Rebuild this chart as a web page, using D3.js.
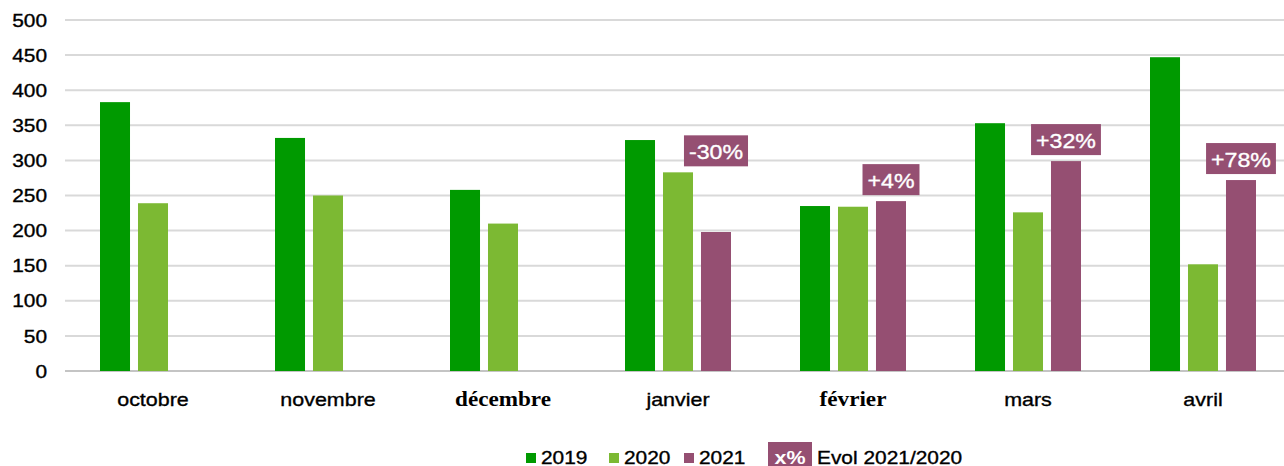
<!DOCTYPE html>
<html>
<head>
<meta charset="utf-8">
<script src="https://cdn.jsdelivr.net/npm/d3@7"></script>
<style>
  body { margin: 0; background: #fff; }
  svg { display: block; }
  text { font-family: "Liberation Sans", Arial, sans-serif; fill: #000; stroke: #000; stroke-width: 0.35px; }
  text.white { fill: #fff; stroke: #fff; }
</style>
</head>
<body>
<svg width="1284" height="466"></svg>
<script>
// data
const months = ["octobre", "novembre", "décembre", "janvier", "février", "mars", "avril"];
const years = ["2019", "2020", "2021"];
const v2019 = [383, 332, 258, 329, 235, 353, 447];
const v2020 = [239, 250, 210, 283, 234, 226, 152];
const v2021 = [null, null, null, 198, 242, 299, 272];
const evol = ["", "", "", "-30%", "+4%", "+32%", "+78%"];
const yTicks = [0, 50, 100, 150, 200, 250, 300, 350, 400, 450, 500];
const serifMonths = ["décembre", "février"]; // these two render in a serif face in the source

const colors = {"2019": "#009a00", "2020": "#7cb933", "2021": "#954f72"};
const sx = 1.13; // the source image is a bit stretched horizontally

var svg = d3.select("svg");

var x = d3.scaleBand().domain(months).range([65.5, 1290.5]);
var xi = d3.scaleBand().domain(years).range([-53, 53]).paddingInner(0.21);
var y = d3.scaleLinear().domain([0, 500]).range([371, 20]);

var rows = months.map(function(m, i) {
  return {month: m, vals: [v2019[i], v2020[i], v2021[i]], evol: evol[i]};
});

function stretched(sel, px, py) {
  return sel.attr("transform", function(d, i) {
    return "translate(" + px(d, i) + "," + py(d, i) + ") scale(" + sx + ",1)";
  });
}

// gridlines
svg.append("g").selectAll("line")
  .data(yTicks)
  .enter().append("line")
    .attr("x1", 65).attr("x2", 1284)
    .attr("y1", function(d) { return y(d); })
    .attr("y2", function(d) { return y(d); })
    .attr("stroke", function(d) { return d === 0 ? "#c4c4c4" : "#d9d9d9"; })
    .attr("stroke-width", 2);

// y labels
stretched(svg.append("g").selectAll("text")
  .data(yTicks)
  .enter().append("text")
    .attr("text-anchor", "end")
    .attr("dy", "0.36em")
    .style("font-size", "18.5px")
    .text(function(d) { return d; }),
  function() { return 47; }, function(d) { return y(d); });

// bars
var groups = svg.append("g").selectAll("g")
  .data(rows)
  .enter().append("g")
    .attr("transform", function(d) { return "translate(" + (x(d.month) + x.bandwidth() / 2) + ",0)"; });

groups.selectAll("rect")
  .data(function(d) {
    return years.map(function(yr, k) { return {year: yr, value: d.vals[k]}; })
      .filter(function(e) { return e.value != null; });
  })
  .enter().append("rect")
    .attr("x", function(d) { return xi(d.year); })
    .attr("width", xi.bandwidth())
    .attr("y", function(d) { return y(d.value); })
    .attr("height", function(d) { return y(0) - y(d.value); })
    .attr("fill", function(d) { return colors[d.year]; });

// month labels
stretched(svg.append("g").selectAll("text")
  .data(months)
  .enter().append("text")
    .attr("text-anchor", "middle")
    .style("font-size", function(d) { return serifMonths.includes(d) ? "20.5px" : "19px"; })
    .style("font-family", function(d) { return serifMonths.includes(d) ? "'Liberation Serif', 'Times New Roman', serif" : null; })
    .style("font-weight", function(d) { return serifMonths.includes(d) ? "bold" : null; })
    .style("stroke-width", function(d) { return serifMonths.includes(d) ? "0" : null; })
    .text(function(d) { return d; }),
  function(d) { return x(d) + x.bandwidth() / 2; }, function() { return 406; });

// evolution boxes above the 2021 bar
function evolBox(g, label, cx, top) {
  var t = g.append("text")
    .attr("class", "white")
    .attr("text-anchor", "middle")
    .style("font-size", "20.5px")
    .attr("transform", "translate(" + cx + "," + (top + 24) + ") scale(" + sx + ",1)")
    .text(label);
  var w = t.node().getComputedTextLength() * sx + 10;
  g.insert("rect", "text")
    .attr("x", cx - w / 2).attr("y", top)
    .attr("width", w).attr("height", 31)
    .attr("fill", colors["2021"]);
}

rows.forEach(function(d) {
  if (!d.evol) return;
  var cx = x(d.month) + x.bandwidth() / 2 + xi("2021") + xi.bandwidth() / 2;
  var top = y(Math.max(d.vals[1], d.vals[2])) - 6 - 31;
  evolBox(svg.append("g"), d.evol, cx, top);
});

// legend
var legend = svg.append("g");
var legItems = [{year: "2019", x: 526}, {year: "2020", x: 609}, {year: "2021", x: 684}];
legItems.forEach(function(it) {
  legend.append("rect")
    .attr("x", it.x).attr("y", 453)
    .attr("width", 10).attr("height", 10)
    .attr("fill", colors[it.year]);
  legend.append("text")
    .style("font-size", "18.5px")
    .attr("transform", "translate(" + (it.x + 15) + ",464) scale(" + sx + ",1)")
    .text(it.year);
});
legend.append("rect")
  .attr("x", 768).attr("y", 442)
  .attr("width", 44).attr("height", 31)
  .attr("fill", colors["2021"]);
legend.append("text")
  .attr("class", "white")
  .attr("text-anchor", "middle")
  .style("font-size", "19px")
  .style("font-weight", "bold")
  .style("stroke-width", "0")
  .attr("transform", "translate(790,464) scale(" + sx + ",1)")
  .text("x%");
legend.append("text")
  .style("font-size", "18.5px")
  .attr("transform", "translate(817,464) scale(" + sx + ",1)")
  .text("Evol 2021/2020");
</script>
</body>
</html>
